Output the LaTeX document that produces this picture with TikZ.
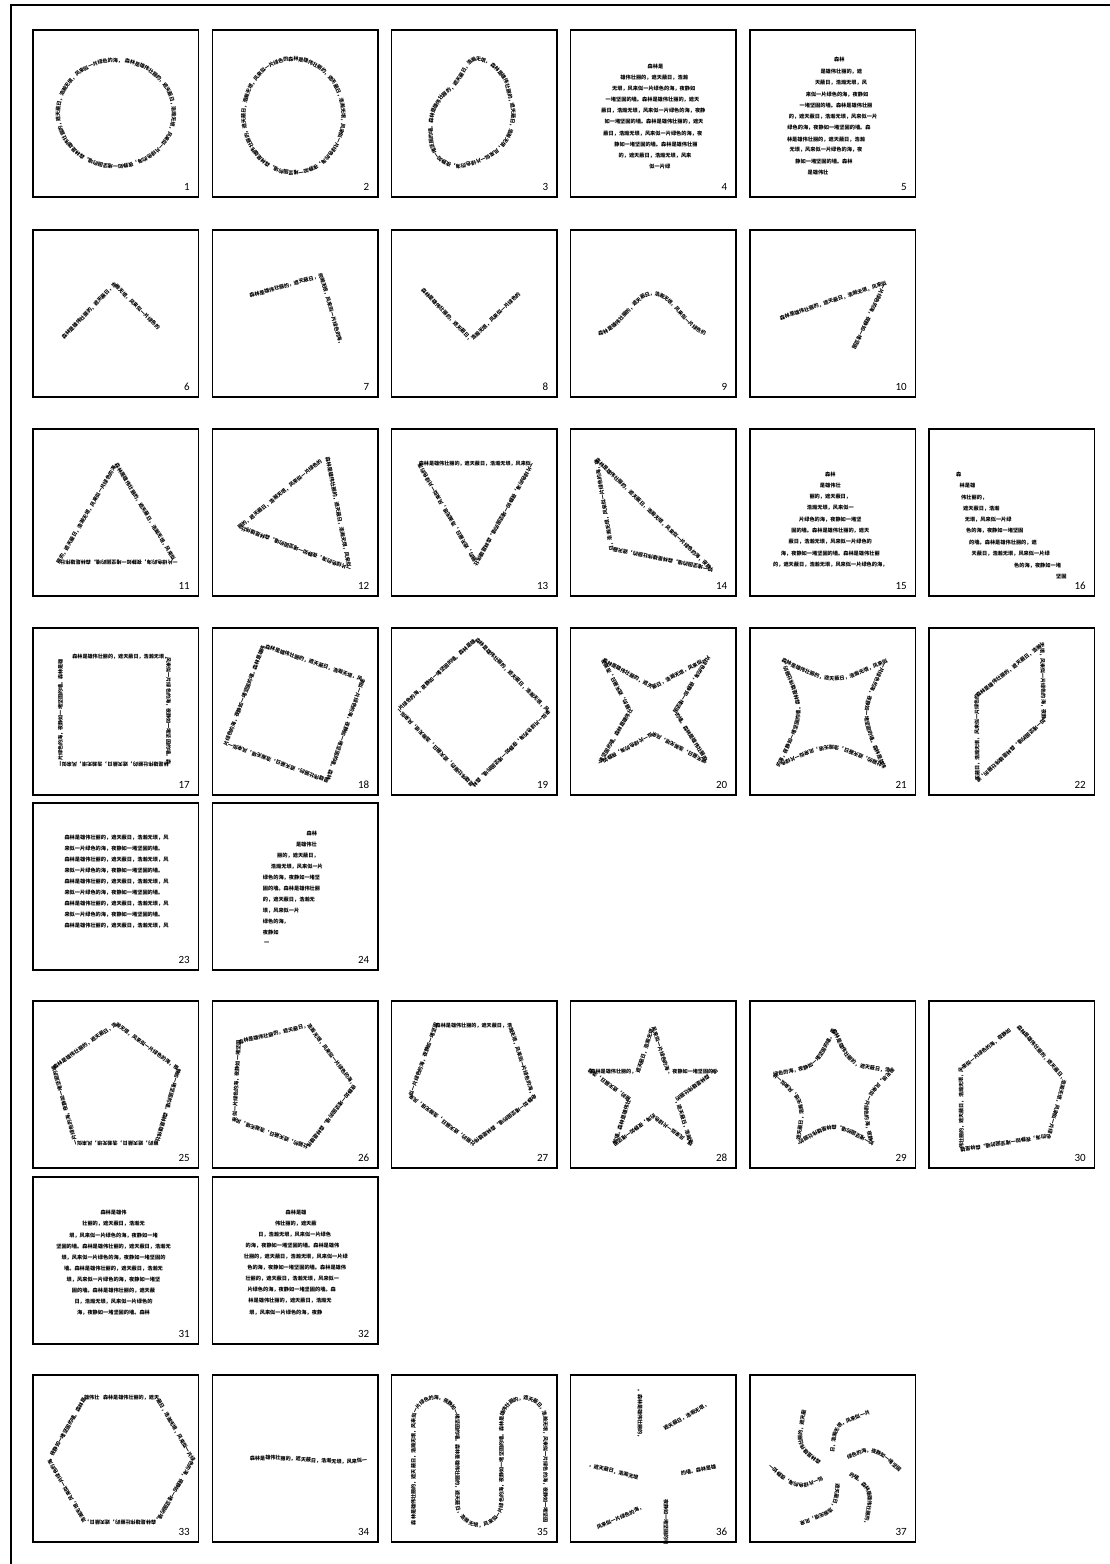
\documentclass[tikz,border=0pt]{standalone}
\usepackage{fontspec}
\setmainfont{Carlito}
\newfontfamily\cjk{Noto Sans CJK SC}
\usetikzlibrary{decorations.text}
\def\SS{森林是雄伟壮丽的，遮天蔽日，浩瀚无垠，风来似一片绿色的海，夜静如一堵坚固的墙。}
\tikzset{
  boxst/.style={draw=black, line width=1.8pt},
  lbl/.style={anchor=base east, font=\rmfamily\mdseries\fontsize{11}{11}\selectfont, inner sep=0pt},
  tp/.style={decorate, decoration={text along path, text/.expanded={#1}, text align=left, raise=-1.9pt}},
  para/.style={inner sep=0pt, font=\cjk\bfseries\fontsize{5.2}{5.2}\selectfont},
  pw/.style={para, anchor=west},
  pe/.style={para, anchor=east},
}
\newcommand\pbox[3]{\draw[boxst] (#1,#2) rectangle ++(165.5,167); \node[lbl] (L#3) at (#1+157,#2+160) {#3};}
\begin{document}
\begin{tikzpicture}[x=1pt,y=-1pt]
\useasboundingbox (0,0) rectangle (1110,1564);
\cjk\bfseries\fontsize{5.1}{6}\selectfont
\draw[line width=1.5pt] (11,1580) -- (11,5) -- (1130,5);
% frames
\pbox{33}{30}{1}\pbox{212.5}{30}{2}\pbox{391.5}{30}{3}\pbox{570.5}{30}{4}\pbox{750}{30}{5}
\pbox{33}{230}{6}\pbox{212.5}{230}{7}\pbox{391.5}{230}{8}\pbox{570.5}{230}{9}\pbox{750}{230}{10}
\pbox{33}{429}{11}\pbox{212.5}{429}{12}\pbox{391.5}{429}{13}\pbox{570.5}{429}{14}\pbox{750}{429}{15}\pbox{929}{429}{16}
\pbox{33}{628}{17}\pbox{212.5}{628}{18}\pbox{391.5}{628}{19}\pbox{570.5}{628}{20}\pbox{750}{628}{21}\pbox{929}{628}{22}
\pbox{33}{803}{23}\pbox{212.5}{803}{24}
\pbox{33}{1001}{25}\pbox{212.5}{1001}{26}\pbox{391.5}{1001}{27}\pbox{570.5}{1001}{28}\pbox{750}{1001}{29}\pbox{929}{1001}{30}
\pbox{33}{1177}{31}\pbox{212.5}{1177}{32}
\pbox{33}{1375}{33}\pbox{212.5}{1375}{34}\pbox{391.5}{1375}{35}\pbox{570.5}{1375}{36}\pbox{750}{1375}{37}
% 1
\begin{scope}[shift={(116,113.5)}]
\path[tp={\SS\SS}] (-81:58 and 53) arc[start angle=-81, end angle=279, x radius=58, y radius=53];
\end{scope}
% 2
\begin{scope}[shift={(293.5,116)}]
\path[tp={\SS\SS}] (-96:50 and 57) arc[start angle=-96, end angle=264, x radius=50, y radius=57];
\end{scope}
% 3
\begin{scope}[shift={(391.5,30)}]
\path[tp={\SS\SS\SS}] plot[smooth cycle] coordinates {(84.7,28.8) (99.9,33.9) (113.4,49.1) (118.5,66) (121.9,82.9) (118.5,103.2) (106.7,120.1) (89.8,130.2) (66.1,136.3) (49.2,130.2) (40.8,116.7) (39.1,96.4) (42.4,79.5) (50.9,66) (61,57.5) (69.5,45.7) (76.3,33.9)};
\end{scope}
% 4
\begin{scope}[shift={(570.5,30)}]
\node[para] (b4a) at (84.9,36.2) {森林是};
\node[para] (b4b) at (83.7,47.4) {雄伟壮丽的，遮天蔽日，浩瀚};
\node[para] (b4c) at (83.2,58.6) {无垠，风来似一片绿色的海，夜静如};
\node[para] (b4d) at (82.0,69.7) {一堵坚固的墙。森林是雄伟壮丽的，遮天};
\node[para] (b4e) at (82.9,80.9) {蔽日，浩瀚无垠，风来似一片绿色的海，夜静};
\node[para] (b4f) at (83.5,92) {如一堵坚固的墙。森林是雄伟壮丽的，遮天};
\node[para] (b4g) at (82.3,103.2) {蔽日，浩瀚无垠，风来似一片绿色的海，夜};
\node[para] (b4h) at (85.4,114.3) {静如一堵坚固的墙。森林是雄伟壮丽};
\node[para] (b4i) at (84.5,125.5) {的，遮天蔽日，浩瀚无垠，风来};
\node[para] (b4j) at (89.3,136.7) {似一片绿};
\end{scope}
% 5
\begin{scope}[shift={(750,30)}]
\node[para] (b5a) at (89.3,29.8) {森林};
\node[para] (b5b) at (91.3,41.7) {是雄伟壮丽的，遮};
\node[para] (b5c) at (91,53.1) {天蔽日，浩瀚无垠，风};
\node[para] (b5d) at (87,64.3) {来似一片绿色的海，夜静如};
\node[para] (b5e) at (86,75.5) {一堵坚固的墙。森林是雄伟壮丽};
\node[para] (b5f) at (83,86.6) {的，遮天蔽日，浩瀚无垠，风来似一片};
\node[para] (b5g) at (79,97.8) {绿色的海，夜静如一堵坚固的墙。森};
\node[para] (b5h) at (76,109.3) {林是雄伟壮丽的，遮天蔽日，浩瀚};
\node[para] (b5i) at (76,120.1) {无垠，风来似一片绿色的海，夜};
\node[para] (b5j) at (74,131.2) {静如一堵坚固的墙。森林};
\node[para] (b5k) at (68,142.7) {是雄伟壮};
\end{scope}
% 6
\begin{scope}[shift={(33,230)}]
\path[tp={森林是雄伟壮丽的，遮天蔽日，浩瀚无垠，风来似一片绿色的}] (29.8,108.3) -- (81.5,54.2) -- (134,106.7);
\end{scope}
% 7
\begin{scope}[shift={(212.5,230)}]
\path[tp={森林是雄伟壮丽的，遮天蔽日，浩瀚无垠，风来似一片绿色的海，}] (37.2,66) -- (108.9,45.7) -- (130,119.5);
\end{scope}
% 8
\begin{scope}[shift={(391.5,230)}]
\path[tp={森林是雄伟壮丽的，遮天蔽日，浩瀚无垠，风来似一片绿色的}] (30.7,59.2) -- (79.7,110) -- (131.5,59.8);
\end{scope}
% 9
\begin{scope}[shift={(570.5,230)}]
\path[tp={森林是雄伟壮丽的，遮天蔽日，浩瀚无垠，风来似一片绿色的}] (27.8,103.3) cos (55.3,83.3) sin (82.8,63.3) cos (110.3,83.3) sin (139,104);
\end{scope}
% 10
\begin{scope}[shift={(750,230)}]
\path[tp={森林是雄伟壮丽的，遮天蔽日，浩瀚无垠，风来似一片绿色的海，夜静如一堵坚固}] (30,88.3) -- (135,53.3) -- (103.3,120);
\end{scope}
% 11
\begin{scope}[shift={(33,429)}]
\path[tp={\SS\SS}] (83.2,34.9) -- (142.4,132.9) -- (25.7,132.9) -- (80.5,39.5);
\end{scope}
% 12
\begin{scope}[shift={(212.5,429)}]
\path[tp={\SS\SS}] (115,28.1) -- (137,139.7) -- (27.1,98.4) -- (108.5,31.5);
\end{scope}
% 13
\begin{scope}[shift={(391.5,429)}]
\path[tp={\SS\SS}] (27.3,34.9) -- (140.5,34.9) -- (84.8,134.6) -- cycle;
\end{scope}
% 14
\begin{scope}[shift={(570.5,429)}]
\path[tp={\SS\SS}] (25.7,30.4) -- (141,140.6) -- (41.1,120) -- cycle;
\end{scope}
% 15
\begin{scope}[shift={(750,429)}]
\node[para] (b15a) at (80.3,45.2) {森林};
\node[para] (b15b) at (80.3,56.5) {是雄伟壮};
\node[para] (b15c) at (80.3,67.8) {丽的，遮天蔽日，};
\node[para] (b15d) at (80.3,79.1) {浩瀚无垠，风来似一};
\node[para] (b15e) at (80.3,90.4) {片绿色的海，夜静如一堵坚};
\node[para] (b15f) at (80.3,101.7) {固的墙。森林是雄伟壮丽的，遮天};
\node[para] (b15g) at (80.3,113) {蔽日，浩瀚无垠，风来似一片绿色的};
\node[para] (b15h) at (80.3,124.3) {海，夜静如一堵坚固的墙。森林是雄伟壮丽};
\node[para] (b15i) at (80.3,135.6) {的，遮天蔽日，浩瀚无垠，风来似一片绿色的海，};
\end{scope}
% 16
\begin{scope}[shift={(929,429)}]
\node[pw] (b16a) at (27,45.9) {森};
\node[pw] (b16b) at (30.5,57) {林是雄};
\node[pw] (b16c) at (32,68.3) {伟壮丽的，};
\node[pw] (b16d) at (34,79.7) {遮天蔽日，浩瀚};
\node[pw] (b16e) at (35.6,90.7) {无垠，风来似一片绿};
\node[pw] (b16f) at (37,102.1) {色的海，夜静如一堵坚固};
\node[pw] (b16g) at (40,113.4) {的墙。森林是雄伟壮丽的，遮};
\node[pw] (b16h) at (42.5,124.8) {天蔽日，浩瀚无垠，风来似一片绿};
\node[pw] (b16i) at (85,136.5) {色的海，夜静如一堵};
\node[pw] (b16j) at (127,147.5) {坚固};
\end{scope}
% 17
\begin{scope}[shift={(33,628)}]
\path[tp={\SS\SS\SS}] (39.3,28.8) -- (135.6,28.8) -- (135.6,136.7) -- (27.4,136.7) -- (27.4,28.8);
\end{scope}
% 18
\begin{scope}[shift={(212.5,628)}]
\path[tp={\SS\SS\SS}] (53,18.4) -- (150.5,51.5) -- (115,152.9) -- (13.6,115.7) -- (50.8,17.7);
\end{scope}
% 19
\begin{scope}[shift={(391.5,628)}]
\path[tp={\SS\SS\SS}] (84.7,10.9) -- (157.5,83.6) -- (81.4,158) -- (7,81.9) -- cycle;
\end{scope}
% 20
\begin{scope}[shift={(570.5,628)}]
\path[tp={\SS\SS\SS}] (32.5,31.9) -- (82.5,59.4) -- (137.5,30.2) -- (104.9,83.5) -- (137.5,135.2) -- (82.5,106) -- (29.1,135.2) -- (59.5,83.5) -- cycle;
\end{scope}
% 21
\begin{scope}[shift={(750,628)}]
\path[tp={\SS\SS\SS}] (32.1,31.9) .. controls (83.2,56.9) .. (135.4,33.6) .. controls (110.6,85.7) .. (133.7,138.6) .. controls (81.8,113.6) .. (28.7,136.9) .. controls (54.4,84.8) .. (32.1,31.9);
\end{scope}
% 22
\begin{scope}[shift={(929,628)}]
\path[tp={\SS\SS\SS}] (47.7,68) -- (113.1,16.4) -- (115,92.1) -- (48.4,153.4) -- cycle;
\end{scope}
% 23
\begin{scope}[shift={(33,803)}]
\foreach \k in {0,2,4,6,8} {\node[pw] (b23a\k) at (31.3,34.3+11.1*\k) {森林是雄伟壮丽的，遮天蔽日，浩瀚无垠，风};}
\foreach \k in {1,3,5,7} {\node[pw] (b23b\k) at (31.3,34.3+11.1*\k) {来似一片绿色的海，夜静如一堵坚固的墙。};}
\end{scope}
% 24
\begin{scope}[shift={(212.5,803)}]
\node[pe] (b24a) at (104.8,30.3) {森林};
\node[pe] (b24b) at (104.5,41.3) {是雄伟壮};
\node[pe] (b24c) at (106.5,52.3) {丽的，遮天蔽日，};
\node[pw] (b24d) at (58.2,63.3) {浩瀚无垠，风来似一片};
\node[pw] (b24e) at (50.2,74.3) {绿色的海，夜静如一堵坚};
\node[pw] (b24f) at (50.2,85.3) {固的墙。森林是雄伟壮丽};
\node[pw] (b24g) at (50.2,96.3) {的，遮天蔽日，浩瀚无};
\node[pw] (b24h) at (50.2,107.3) {垠，风来似一片};
\node[pw] (b24i) at (50.2,118.3) {绿色的海，};
\node[pw] (b24j) at (50.2,129.3) {夜静如};
\node[pw] (b24k) at (51.5,140.3) {一};
\end{scope}
% 25
\begin{scope}[shift={(33,1001)}]
\path[tp={\SS\SS\SS}] (20.7,66.7) -- (83.2,22.7) -- (145.7,68.4) -- (123.8,142.7) -- (42.6,142.7) -- cycle;
\end{scope}
% 26
\begin{scope}[shift={(212.5,1001)}]
\path[tp={\SS\SS\SS}] (26.1,41.3) -- (96.4,24.4) -- (142,85.3) -- (94.7,146.1) -- (22,119.1) -- cycle;
\end{scope}
% 27
\begin{scope}[shift={(391.5,1001)}]
\path[tp={\SS\SS\SS}] (44.2,24.4) -- (118.5,24.4) -- (142.2,97.1) -- (81.4,142.7) -- (18.8,95.4) -- cycle;
\end{scope}
% 28
\begin{scope}[shift={(653,1091.7)}]
\path[tp={\SS\SS\SS}] (198:65.7) -- (234:25.1) -- (270:65.7) -- (306:25.1) -- (342:65.7) -- (18:25.1) -- (54:65.7) -- (90:25.1) -- (126:65.7) -- (162:25.1) -- cycle;
\end{scope}
% 29
\begin{scope}[shift={(750,1001)}]
\path[tp={\SS\SS\SS}] (83.8,28.4) .. controls (101.2,65.5) .. (142.3,69.8) .. controls (112.6,99.6) .. (121.6,142.1) .. controls (84.2,121.3) .. (47.6,142.1) .. controls (54.7,100.6) .. (23.5,73.2) .. controls (65.6,66.5) .. (83.8,28.4);
\end{scope}
% 30
\begin{scope}[shift={(929,1001)}]
\path[tp={\SS\SS\SS}] (89,25) -- (135.5,78.4) -- (120,135.2) -- (32.5,149) -- (32,68) -- (83,27.5);
\end{scope}
% 31
\begin{scope}[shift={(33,1177)}]
\node[para] (b31a) at (80.5,36) {森林是雄伟};
\node[para] (b31b) at (80.5,47.1) {壮丽的，遮天蔽日，浩瀚无};
\node[para] (b31c) at (80.5,58.2) {垠，风来似一片绿色的海，夜静如一堵};
\node[para] (b31d) at (80.5,69.3) {坚固的墙。森林是雄伟壮丽的，遮天蔽日，浩瀚无};
\node[para] (b31e) at (80.5,80.4) {垠，风来似一片绿色的海，夜静如一堵坚固的};
\node[para] (b31f) at (80.5,91.5) {墙。森林是雄伟壮丽的，遮天蔽日，浩瀚无};
\node[para] (b31g) at (80.5,102.6) {垠，风来似一片绿色的海，夜静如一堵坚};
\node[para] (b31h) at (80.5,113.7) {固的墙。森林是雄伟壮丽的，遮天蔽};
\node[para] (b31i) at (80.5,124.8) {日，浩瀚无垠，风来似一片绿色的};
\node[para] (b31j) at (80.5,135.9) {海，夜静如一堵坚固的墙。森林};
\end{scope}
% 32
\begin{scope}[shift={(212.5,1177)}]
\node[para] (b32a) at (83.5,35.3) {森林是雄};
\node[para] (b32b) at (83.3,46.4) {伟壮丽的，遮天蔽};
\node[para] (b32c) at (82.2,57.5) {日，浩瀚无垠，风来似一片绿色};
\node[para] (b32d) at (80,68.6) {的海，夜静如一堵坚固的墙。森林是雄伟};
\node[para] (b32e) at (83.3,79.7) {壮丽的，遮天蔽日，浩瀚无垠，风来似一片绿};
\node[para] (b32f) at (84.2,90.8) {色的海，夜静如一堵坚固的墙。森林是雄伟};
\node[para] (b32g) at (79.8,101.9) {壮丽的，遮天蔽日，浩瀚无垠，风来似一};
\node[para] (b32h) at (79.2,113) {片绿色的海，夜静如一堵坚固的墙。森};
\node[para] (b32i) at (77.5,124.1) {林是雄伟壮丽的，遮天蔽日，浩瀚无};
\node[para] (b32j) at (73.3,135.2) {垠，风来似一片绿色的海，夜静};
\end{scope}
% 33
\begin{scope}[shift={(33,1375)}]
\path[tp={\SS\SS\SS}] (70,22.6) -- (124,22.6) -- (160,85) -- (124,147.4) -- (52,147.4) -- (16,85) -- (52,22.6) -- (66,22.6);
\end{scope}
% 34
\begin{scope}[shift={(212.5,1375)}]
\path[tp={森林是雄伟壮丽的，遮天蔽日，浩瀚无垠，风来似一片绿}] (37.5,84) .. controls (75,80) and (115,90) .. (156,85);
\end{scope}
% 35
\begin{scope}[shift={(391.5,1375)}]
\path[tp={\SS\SS\SS}] (22,150) -- (22,45) arc[start angle=180, end angle=360, radius=22] -- (66,128) arc[start angle=180, end angle=0, radius=22] -- (110,45) arc[start angle=180, end angle=360, radius=22] -- (154,150);
\end{scope}
% 36
\path[tp={。森林是雄伟壮丽的，}] (640,1389) -- (640,1449);
\path[tp={遮天蔽日，浩瀚无垠，}] (664,1429) -- (715,1400);
\path[tp={，遮天蔽日，浩瀚无垠}] (589,1465) -- (643,1479);
\path[tp={风来似一片绿色的海，}] (597,1528) -- (648,1505);
\path[tp={夜静如一堵坚固的墙}] (666,1499) -- (666,1550);
\path[tp={的墙。森林是雄}] (681,1474) -- (721,1466);
% 37
\begin{scope}[shift={(835,1468)}]
\path[tp={森林是雄伟壮丽的，遮天蔽}] (-160:16) .. controls (-150:44) .. (-115:70);
\path[tp={日，浩瀚无垠，风来似一片}] (-100:16) .. controls (-90:44) .. (-55:70);
\path[tp={绿色的海，夜静如一堵坚固}] (-40:16) .. controls (-30:44) .. (5:70);
\path[tp={的墙。森林是雄伟壮丽的，}] (20:16) .. controls (30:44) .. (65:70);
\path[tp={遮天蔽日，浩瀚无垠，风来}] (80:16) .. controls (90:44) .. (125:70);
\path[tp={似一片绿色的海，夜静如一}] (140:16) .. controls (150:44) .. (185:70);
\end{scope}
\end{tikzpicture}
\end{document}
